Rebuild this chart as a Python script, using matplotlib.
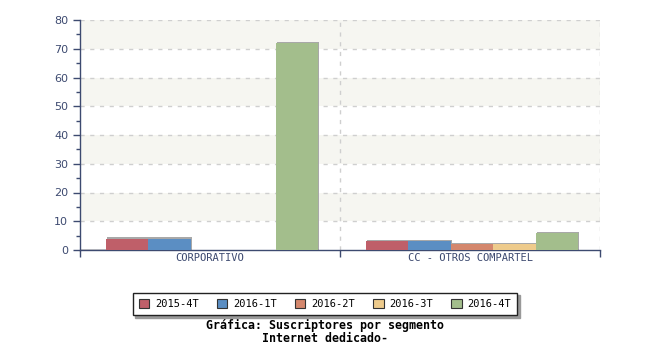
import numpy as np
import matplotlib
matplotlib.use('Agg')
import matplotlib.pyplot as plt
from matplotlib.patches import Rectangle
from matplotlib.ticker import MultipleLocator

categories = ['CORPORATIVO', 'CC - OTROS COMPARTEL']
series = ['2015-4T', '2016-1T', '2016-2T', '2016-3T', '2016-4T']
values = {
    '2015-4T': [4, 3],
    '2016-1T': [4, 3],
    '2016-2T': [0, 2],
    '2016-3T': [0, 2],
    '2016-4T': [72, 6],
}
colors = ['#bf5f69', '#5b8ec3', '#d4876d', '#eecb8c', '#a3be8c']

axis_col = '#3d4a70'
mono = 'DejaVu Sans Mono'

fig = plt.figure(figsize=(6.5, 3.5), dpi=100)
ax = fig.add_axes([80 / 650, 1 - 250 / 350, 520 / 650, 230 / 350])

# alternating bands
for lo in range(10, 80, 20):
    ax.axhspan(lo, lo + 10, color='#f6f6f1', zorder=0, lw=0)
for y in range(10, 90, 10):
    ax.axhline(y, color='#cfcfcf', lw=1, ls=(0, (3, 4)), zorder=1)
for x in [1, 2]:
    ax.axvline(x, color='#cfcfcf', lw=1, ls=(0, (3, 4)), zorder=1)

bw = 0.163
x0 = np.arange(len(categories))
for i, s in enumerate(series):
    xs = x0 + 0.1 + i * bw
    for xx, v in zip(xs, values[s]):
        if v <= 0:
            continue
        # shadow
        ax.add_patch(Rectangle((xx + 0.005, 0), bw, v + 0.4, color='#a8a8a8', zorder=2, lw=0))
        ax.add_patch(Rectangle((xx, 0), bw, v, color=colors[i], zorder=3, lw=0))
    ax.bar([0], [0], color=colors[i], label=s, edgecolor='#333333', linewidth=0.8)

ax.set_xlim(0, 2)
ax.set_ylim(0, 80)
ax.yaxis.set_major_locator(MultipleLocator(10))
ax.yaxis.set_minor_locator(MultipleLocator(5))
ax.set_xticks([0, 1, 2])
ax.set_xticklabels([])
ax.set_xticks([0.5, 1.5], minor=True)
ax.set_xticklabels(categories, minor=True, fontsize=7.5, family=mono, color=axis_col)
ax.tick_params(axis='x', which='minor', length=0, pad=2)
ax.tick_params(axis='x', which='major', length=5, color=axis_col, width=1)
ax.tick_params(axis='y', which='major', length=5, color=axis_col, labelsize=8, labelcolor=axis_col, width=1)
ax.tick_params(axis='y', which='minor', length=3, color=axis_col, width=1)
for t in ax.get_yticklabels():
    t.set_family('DejaVu Sans')
for sp in ['top', 'right']:
    ax.spines[sp].set_visible(False)
for sp in ['left', 'bottom']:
    ax.spines[sp].set_color(axis_col)
    ax.spines[sp].set_linewidth(1)

leg = fig.legend(loc='center', bbox_to_anchor=(325 / 650, 1 - 304 / 350), ncol=5,
                 prop={'family': mono, 'size': 7.5}, frameon=True, fancybox=False,
                 shadow={'color': '#999999', 'alpha': 1}, edgecolor='#222222',
                 handlelength=1.0, handleheight=1.0, handletextpad=0.55, columnspacing=1.75,
                 borderpad=0.6)
leg.get_frame().set_linewidth(1)

fig.text(325 / 650, 1 - 325 / 350, 'Gráfica: Suscriptores por segmento', ha='center', va='center',
         family=mono, fontsize=8.4, fontweight='bold')
fig.text(325 / 650, 1 - 339 / 350, 'Internet dedicado-', ha='center', va='center',
         family=mono, fontsize=8.4, fontweight='bold')

fig.savefig('out.png', dpi=100)
